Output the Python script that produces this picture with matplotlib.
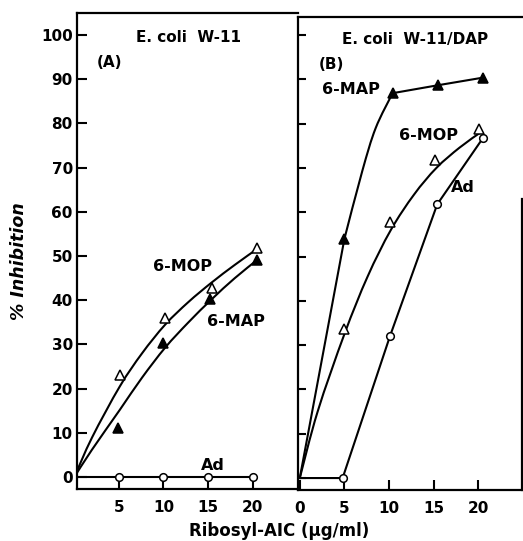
import matplotlib.pyplot as plt
from matplotlib.path import Path
from matplotlib.patches import PathPatch
import numpy as np

plt.rcParams['font.family'] = 'DejaVu Sans'
plt.rcParams['font.weight'] = 'bold'

# panel A, E. coli W-11
a_mop_x = [5.1, 10.2, 15.4, 20.5]
a_mop_y = [23.1, 36.0, 42.7, 51.8]
a_map_x = [4.9, 10.0, 15.2, 20.5]
a_map_y = [11.0, 30.3, 40.2, 49.1]
a_ad_x = [5, 10, 15, 20]
a_ad_y = [0, 0, 0, 0]

# hand drawn curves of panel A (traced)
a_mop_cx = [0, 2.0, 5.1, 7.6, 10.2, 12.8, 15.4, 18.0, 20.5]
a_mop_cy = [0, 9.0, 20.5, 28.0, 34.5, 39.6, 44.0, 48.0, 51.6]
a_map_cx = [0, 1.95, 5.1, 7.6, 10.2, 12.8, 15.4, 18.0, 20.5]
a_map_cy = [0, 6.1, 15.2, 22.5, 29.3, 35.0, 40.2, 45.0, 49.1]

# panel B, E. coli W-11/DAP
b_map_x = [5.0, 10.4, 15.5, 20.5]
b_map_y = [54.0, 86.9, 88.7, 90.4]
b_mop_x = [5.0, 10.1, 15.1, 20.1]
b_mop_y = [33.6, 57.8, 71.9, 78.7]
b_ad_x = [4.8, 10.1, 15.4, 20.5]
b_ad_y = [0, 32.0, 61.8, 76.7]

# traced curves of panel B (6-MAP bends between 5 and 10)
b_map_cx = [5.0, 7.0, 8.5, 10.4]
b_map_cy = [54.0, 69.3, 79.0, 86.9]
b_mop_cx = [0, 2.0, 5.0, 7.6, 10.2, 12.8, 15.3, 17.9, 20.3]
b_mop_cy = [0, 15.0, 32.5, 45.5, 56.0, 64.0, 70.0, 74.6, 78.1]

yticks = np.arange(0, 101, 10)


def smooth(ax, xs, ys, lw=1.5):
    # catmull-rom through the traced points, drawn as bezier path
    p = np.column_stack([xs, ys]).astype(float)
    ext = np.vstack([p[0], p, p[-1]])
    verts = [p[0]]
    codes = [Path.MOVETO]
    for i in range(1, len(ext) - 2):
        c1 = ext[i] + (ext[i + 1] - ext[i - 1]) / 6
        c2 = ext[i + 1] - (ext[i + 2] - ext[i]) / 6
        verts += [c1, c2, ext[i + 1]]
        codes += [Path.CURVE4] * 3
    ax.add_patch(PathPatch(Path(verts, codes), fill=False, lw=lw,
                           edgecolor='black', capstyle='round'))


W, H = 523, 541
fig = plt.figure(figsize=(W / 100, H / 100), dpi=100)
axA = fig.add_axes([77 / W, 1 - 489 / H, (298 - 77) / W, (489 - 13) / H])
axB = fig.add_axes([298 / W, 1 - 490 / H, (522 - 298) / W, (490 - 17) / H])

lw = 1.5
tri = dict(marker='^', markersize=7.5, markeredgewidth=1.1, color='black',
           linestyle='none', zorder=3)
circ = dict(marker='o', markersize=5.5, markeredgewidth=1.1, color='black',
            markerfacecolor='white', linestyle='none', zorder=3)

# ---- panel A
smooth(axA, a_mop_cx, a_mop_cy)
smooth(axA, a_map_cx, a_map_cy)
axA.plot([0] + a_ad_x, [0] + a_ad_y, color='black', lw=lw)
axA.plot(a_mop_x, a_mop_y, markerfacecolor='white', **tri)
axA.plot(a_map_x, a_map_y, markerfacecolor='black', **tri)
axA.plot(a_ad_x, a_ad_y, **circ)

axA.set_xlim(0.3, 25.1)
axA.set_ylim(-2.7, 105)
axA.set_xticks([5, 10, 15, 20])
axA.set_yticks(yticks)
axA.spines['right'].set_visible(False)
axA.tick_params(axis='y', direction='in', length=7, width=1.5, pad=3, labelsize=11)
axA.tick_params(axis='x', direction='in', length=8, width=1.5, pad=8, labelsize=11)

axA.text(12.8, 99.5, 'E. coli  W-11', ha='center', va='center', fontsize=11)
axA.text(4.0, 93.9, '(A)', ha='center', va='center', fontsize=11)
axA.text(12.1, 47.6, '6-MOP', ha='center', va='center', fontsize=11.5)
axA.text(18.1, 35.1, '6-MAP', ha='center', va='center', fontsize=11.5)
axA.text(15.5, 2.6, 'Ad', ha='center', va='center', fontsize=11.5)

# ---- panel B
axB.plot([0, b_map_x[0]], [0, b_map_y[0]], color='black', lw=lw)
smooth(axB, b_map_cx, b_map_cy)
axB.plot(b_map_x[1:], b_map_y[1:], color='black', lw=lw)
smooth(axB, b_mop_cx, b_mop_cy)
axB.plot([0] + b_ad_x, [0] + b_ad_y, color='black', lw=lw)
axB.plot(b_map_x, b_map_y, markerfacecolor='black', **tri)
axB.plot(b_mop_x, b_mop_y, markerfacecolor='white', **tri)
axB.plot(b_ad_x, b_ad_y, **circ)

axB.set_xlim(-0.2, 24.9)
axB.set_ylim(-2.7, 104.1)
axB.set_xticks([0, 5, 10, 15, 20])
axB.set_yticks(yticks)
axB.spines['right'].set_bounds(-2.7, 63)
axB.tick_params(axis='y', direction='in', length=6, width=1.5, labelleft=False)
axB.tick_params(axis='x', direction='in', length=7, width=1.5, pad=8, labelsize=11)

axB.text(12.9, 99.1, 'E. coli  W-11/DAP', ha='center', va='center', fontsize=11)
axB.text(3.5, 93.4, '(B)', ha='center', va='center', fontsize=11)
axB.text(5.7, 87.8, '6-MAP', ha='center', va='center', fontsize=11.5)
axB.text(14.4, 77.4, '6-MOP', ha='center', va='center', fontsize=11.5)
axB.text(18.3, 65.6, 'Ad', ha='center', va='center', fontsize=11.5)

for ax in (axA, axB):
    for s in ax.spines.values():
        s.set_linewidth(1.6)

fig.text(19 / W, 1 - 261 / H, '% Inhibition', rotation=90, ha='center', va='center',
         fontsize=12.5, style='italic')
fig.text(279 / W, 1 - 531 / H, 'Ribosyl-AIC (\u03bcg/ml)', ha='center', va='center',
         fontsize=12)

fig.savefig('out.png', dpi=100)
